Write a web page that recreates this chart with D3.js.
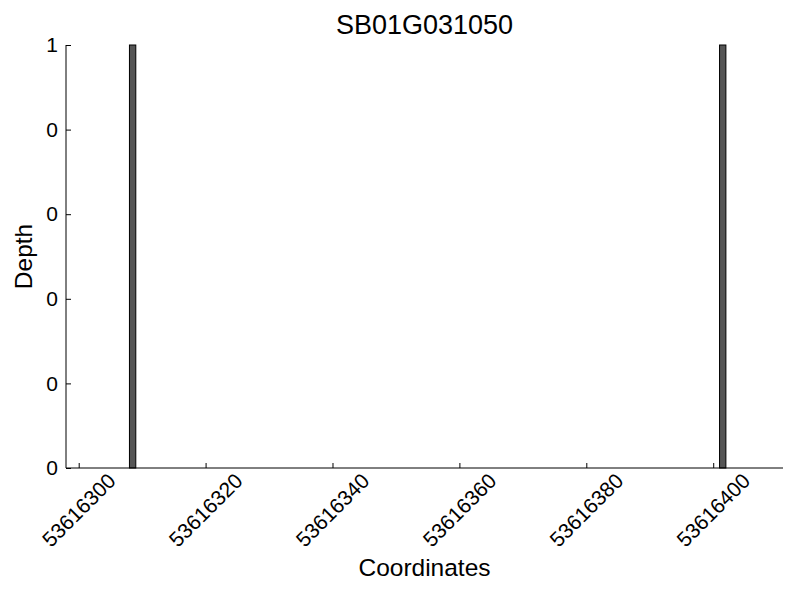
<!DOCTYPE html>
<html>
<head>
<meta charset="utf-8">
<script src="https://cdn.jsdelivr.net/npm/d3@7"></script>
<style>
  body { margin: 0; background: #fff; }
  svg { font-family: "Liberation Sans", Arial, sans-serif; }
</style>
</head>
<body>
<svg id="chart" width="800" height="600"></svg>
<script>
// Chart data
const title = 'SB01G031050';
const positions = [53616308, 53616401];   // bar start coordinates (1 bp wide)
const depths = [1, 1];
const xTicks = [53616300, 53616320, 53616340, 53616360, 53616380, 53616400];
const yTicks = [0, 0.2, 0.4, 0.6, 0.8, 1];
const yTickLabels = ['0', '0', '0', '0', '0', '1'];
const xDomain = [53616298, 53616411];

const margin = { top: 45, right: 17, bottom: 132, left: 66 };
const width = 800, height = 600;
const innerW = width - margin.left - margin.right;
const innerH = height - margin.top - margin.bottom;

const svg = d3.select('#chart');
const g = svg.append('g').attr('transform', `translate(${margin.left},${margin.top})`);

const x = d3.scaleLinear().domain(xDomain).range([0, innerW]);
const y = d3.scaleLinear().domain([0, 1]).range([innerH, 0]);

// Bars
g.selectAll('.bar')
  .data(positions.map((p, i) => ({ p, d: depths[i] })))
  .join('rect')
  .attr('class', 'bar')
  .attr('x', d => x(d.p))
  .attr('width', d => x(d.p + 1) - x(d.p))
  .attr('y', d => y(d.d))
  .attr('height', d => y(0) - y(d.d))
  .attr('fill', '#555')
  .attr('stroke', '#000')
  .attr('stroke-width', 1);

// X axis (ticks pointing inward)
const xAxis = g.append('g')
  .attr('transform', `translate(0,${innerH})`)
  .call(d3.axisBottom(x).tickValues(xTicks).tickSize(-5).tickFormat(''));
xAxis.select('.domain').attr('stroke', '#000');
xAxis.selectAll('.tick line').attr('stroke', '#000');

g.selectAll('.xlabel')
  .data(xTicks)
  .join('text')
  .attr('class', 'xlabel')
  .attr('transform', d => `translate(${x(d)},${innerH + 42}) rotate(-45)`)
  .attr('text-anchor', 'middle')
  .attr('dominant-baseline', 'central')
  .attr('font-size', 21)
  .attr('fill', '#000')
  .text(d => d);

// Y axis
const yAxis = g.append('g')
  .call(d3.axisLeft(y).tickValues(yTicks).tickSize(-5).tickPadding(8)
    .tickFormat((d, i) => yTickLabels[i]));
yAxis.select('.domain').attr('stroke', '#000');
yAxis.selectAll('.tick line').attr('stroke', '#000');
yAxis.selectAll('.tick text').attr('font-size', 21).attr('fill', '#000')
  .attr('font-family', '"Liberation Sans", Arial, sans-serif');
xAxis.selectAll('.domain').attr('d', `M0,0H${innerW}`);
yAxis.selectAll('.domain').attr('d', `M0,${innerH}V0`);

// Title and axis labels
svg.append('text')
  .attr('x', margin.left + innerW / 2)
  .attr('y', 34)
  .attr('text-anchor', 'middle')
  .attr('font-size', 27)
  .text(title);

svg.append('text')
  .attr('x', margin.left + innerW / 2)
  .attr('y', 576)
  .attr('text-anchor', 'middle')
  .attr('font-size', 24.5)
  .text('Coordinates');

svg.append('text')
  .attr('transform', `translate(32,${margin.top + innerH / 2}) rotate(-90)`)
  .attr('text-anchor', 'middle')
  .attr('font-size', 24.5)
  .text('Depth');
</script>
</body>
</html>
